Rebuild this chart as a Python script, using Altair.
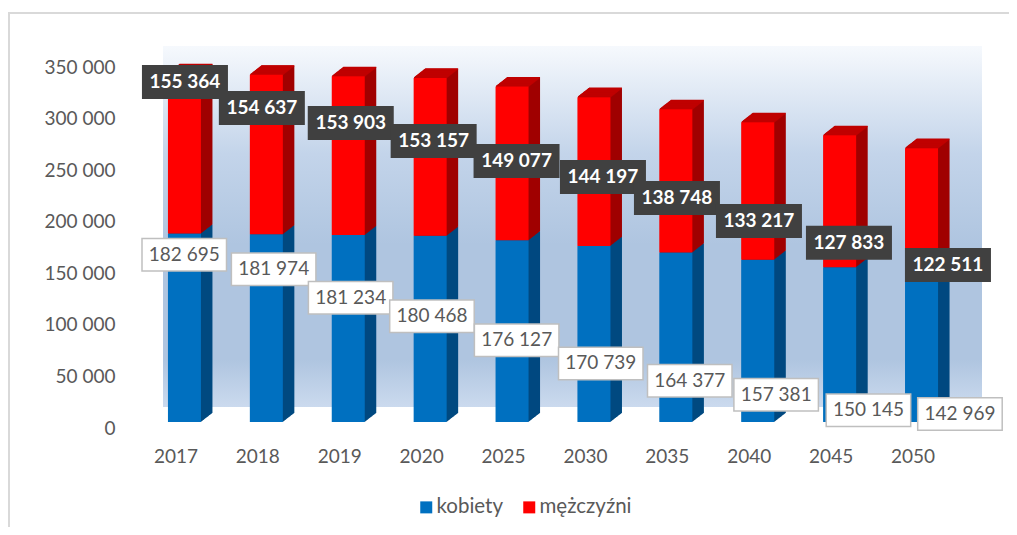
import altair as alt
import pandas as pd

years = ["2017","2018","2019","2020","2025","2030","2035","2040","2045","2050"]
kobiety = [182695,181974,181234,180468,176127,170739,164377,157381,150145,142969]
mezczyzni = [155364,154637,153903,153157,149077,144197,138748,133217,127833,122511]
series_names = ["kobiety","mężczyźni"]
y_ticks = [0,50000,100000,150000,200000,250000,300000,350000]

# label placement (pixels, relative to segment top)
blue_dx = [8.3,15.8,10.9,10.3,13.1,15.3,22.4,26.9,37.3,46.9]
blue_dy = [21.2,34.9,62.6,80.3,100,117.6,128.3,135.1,143.1,139.5]
red_dx = [9,4,11,12,13,17.5,9.6,9.7,17.8,34.9]
red_dy = [8.7,33.2,46.7,63.1,74.4,79.8,88.6,98.7,107.4,116.8]

FONT = "Lato"
W, H = 819, 361
BAR_W, BAR_X = 33, 8.5
DEPTH_X, DEPTH_Y = 11.5, 9

rows = []
for y, k, m in zip(years, kobiety, mezczyzni):
    rows.append({"year": y, "series": "kobiety", "lo": 0, "hi": k, "val": k})
    rows.append({"year": y, "series": "mężczyźni", "lo": k, "hi": k + m, "val": m})
long = pd.DataFrame(rows)
blue = long[long.series == "kobiety"]
red = long[long.series == "mężczyźni"]

xs = alt.Scale(domain=years, paddingInner=0, paddingOuter=0)
ys = alt.Scale(domain=[0, 350000], nice=False)
X = alt.X("year:N", scale=xs, title=None, axis=alt.Axis(
    labelAngle=0, domain=False, ticks=False, grid=False, labelPadding=25,
    labelFont=FONT, labelFontSize=19, labelColor="#595959"))
Y = alt.Y("hi:Q", scale=ys, title=None, axis=alt.Axis(
    values=y_ticks, domain=False, ticks=False, grid=False, labelPadding=20, labelOffset=6,
    labelFont=FONT, labelFontSize=19, labelColor="#595959",
    labelExpr="replace(format(datum.value, ','), /,/g, ' ')"))
Y2 = alt.Y2("lo:Q")

one = pd.DataFrame({"a": [0]})
layers = []

# outer frame
layers.append(alt.Chart(one).mark_rule(color="#d9d9d9", strokeWidth=2).encode(
    x=alt.value(-126), x2=alt.value(874), y=alt.value(-48)))
layers.append(alt.Chart(one).mark_rule(color="#d9d9d9", strokeWidth=2).encode(
    x=alt.value(-126), y=alt.value(-49), y2=alt.value(466)))

# wall
gradient = alt.LinearGradient(gradient="linear", x1=0, x2=0, y1=0, y2=1, stops=[
    alt.GradientStop(color="#f6f9fd", offset=0),
    alt.GradientStop(color="#c3d4ea", offset=0.3),
    alt.GradientStop(color="#afc5e0", offset=0.55),
    alt.GradientStop(color="#afc5e0", offset=0.87),
    alt.GradientStop(color="#cbdaee", offset=1),
])
layers.append(alt.Chart(one).mark_rect(color=gradient).encode(
    x=alt.value(28), x2=alt.value(847), y=alt.value(-15), y2=alt.value(346)))

# 3D depth
steps = 23
for i in range(steps, 0, -1):
    dx = BAR_X + DEPTH_X * i / steps
    dy = -DEPTH_Y * i / steps
    layers.append(alt.Chart(blue).mark_bar(width=BAR_W, xOffset=dx, yOffset=dy, y2Offset=dy, color="#004a80").encode(x=X, y=Y, y2=Y2))
    layers.append(alt.Chart(red).mark_bar(width=BAR_W, xOffset=dx, yOffset=dy, y2Offset=dy, color="#a00000").encode(x=X, y=Y, y2=Y2))
    layers.append(alt.Chart(red).mark_tick(size=BAR_W, thickness=1.2, opacity=1, xOffset=dx, yOffset=dy, color="#c00000").encode(x=X, y=Y))

# front faces
layers.append(alt.Chart(long).mark_bar(width=BAR_W, xOffset=BAR_X).encode(
    x=X, y=Y, y2=Y2,
    color=alt.Color("series:N", scale=alt.Scale(domain=series_names, range=["#0070c0", "#ff0000"]),
        legend=alt.Legend(orient="none", legendX=281, legendY=436, direction="horizontal", title=None,
            symbolType="square", symbolSize=144, symbolStrokeWidth=0, labelFont=FONT, labelFontSize=20.5,
            labelColor="#595959", columnPadding=15, labelOffset=0, padding=0)),
))

# data labels
for i, year in enumerate(years):
    b = blue[blue.year == year]
    layers.append(alt.Chart(b).mark_tick(size=86, thickness=34, opacity=1, color="#bfbfbf",
        xOffset=blue_dx[i], yOffset=blue_dy[i]).encode(x=X, y=Y))
    layers.append(alt.Chart(b).mark_tick(size=83, thickness=31, opacity=1, color="#ffffff",
        xOffset=blue_dx[i], yOffset=blue_dy[i]).encode(x=X, y=Y))
    layers.append(alt.Chart(b.assign(t=b.val.map(lambda v: f"{v:,}".replace(",", " ")))).mark_text(
        font=FONT, fontSize=19, color="#595959", dx=blue_dx[i], dy=blue_dy[i]).encode(x=X, y=Y, text="t:N"))
for i, year in enumerate(years):
    r = red[red.year == year]
    layers.append(alt.Chart(r).mark_tick(size=86, thickness=34, opacity=1, color="#404040",
        xOffset=red_dx[i], yOffset=red_dy[i]).encode(x=X, y=Y))
    layers.append(alt.Chart(r.assign(t=r.val.map(lambda v: f"{v:,}".replace(",", " ")))).mark_text(
        font=FONT, fontSize=19, fontWeight="bold", color="#ffffff", dx=red_dx[i], dy=red_dy[i]).encode(x=X, y=Y, text="t:N"))

chart = alt.layer(*layers).properties(
    width=W, height=H, autosize="none",
    padding={"left": 127, "top": 53, "right": 55, "bottom": 105},
    background="white",
).configure_view(stroke=None)

chart.save("out.html", embed_options={"renderer": "svg", "actions": False})
